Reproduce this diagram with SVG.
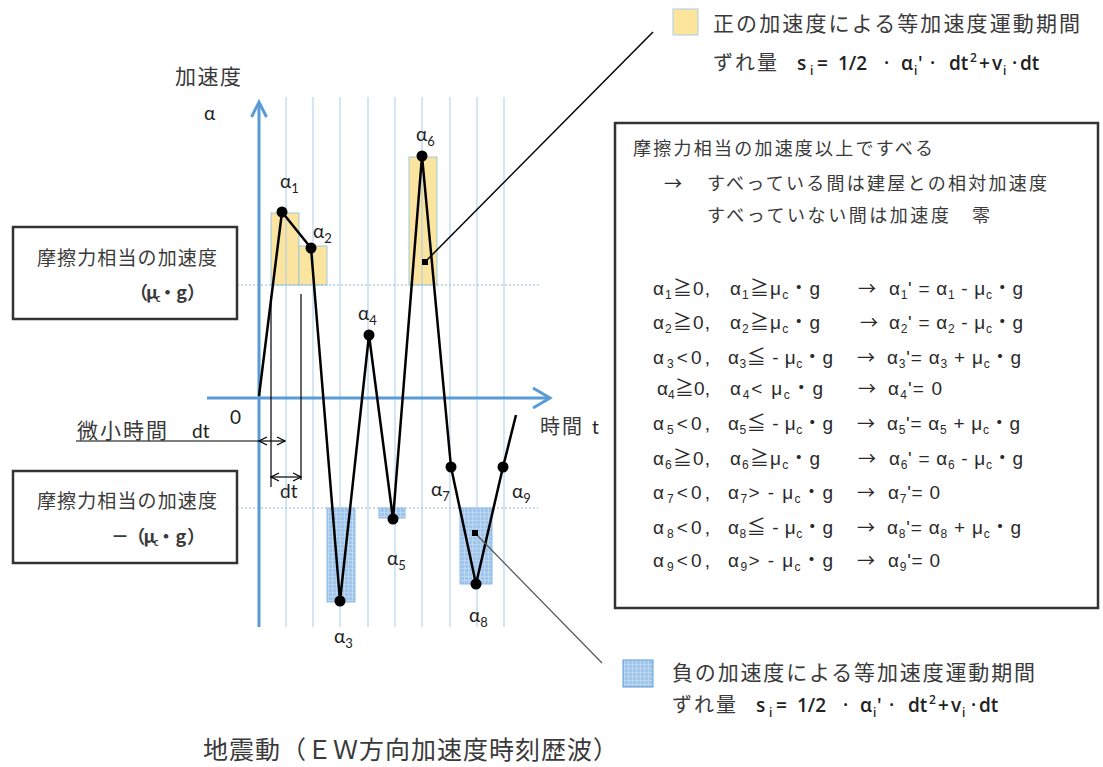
<svg xmlns="http://www.w3.org/2000/svg" width="1103" height="767" viewBox="0 0 1103 767">
<style>
.cj{font-family:"Noto Sans CJK JP","Liberation Sans",sans-serif;fill:#3a3a3a}
.eq{font-family:"Liberation Sans","Noto Sans CJK JP",sans-serif;font-size:19px;fill:#2a2a2a}
.s{font-size:12px}
.ar{font-family:"Noto Sans CJK JP",sans-serif;font-size:18px;fill:#2a2a2a}
.al{font-family:Lato,"Liberation Sans","Noto Sans CJK JP",sans-serif;font-size:19px;fill:#222}
.as{font-size:13px}
.fm{font-family:"Open Sans","Liberation Sans",sans-serif;font-size:19px;font-weight:600;fill:#222}
.fs{font-size:12px}
.box{fill:#fff;stroke:#333;stroke-width:2.5}
.grid{stroke:#a9cbec;stroke-width:1}
.dot{stroke:#8fb8e0;stroke-width:1;stroke-dasharray:2 2}
.ax{stroke:#5b9bd5;stroke-width:3;fill:none}
.yr{fill:#fbe3a0;stroke:#9cc9d8;stroke-width:1}
.br{fill:url(#bgrid);stroke:#8cbbe6;stroke-width:1}
.pt{fill:#000}
</style>
<defs>
<pattern id="bgrid" width="4" height="4" patternUnits="userSpaceOnUse">
<rect width="4" height="4" fill="#9fc6ea"/>
<path d="M0,0.5 H4 M0.5,0 V4" stroke="#c2daf2" stroke-width="0.8"/>
</pattern>
<marker id="chev" markerWidth="10" markerHeight="10" refX="9" refY="5" orient="auto-start-reverse" markerUnits="userSpaceOnUse">
<path d="M1,1 L9,5 L1,9" fill="none" stroke="#000" stroke-width="1.2"/>
</marker>
</defs>
<rect width="1103" height="767" fill="#fff"/>

<g id="chart">
<g id="bars">
<rect class="yr" x="271" y="213" width="28" height="72"/>
<rect class="yr" x="299" y="246" width="28" height="39"/>
<rect class="yr" x="409" y="157" width="28" height="128"/>
<rect class="br" x="327" y="508" width="28" height="94"/>
<rect class="br" x="379" y="508" width="26" height="10"/>
<rect class="br" x="460" y="508" width="32" height="76"/>
</g>
<g id="gridlines">
<line class="grid" x1="286" y1="97" x2="286" y2="627"/>
<line class="grid" x1="313" y1="97" x2="313" y2="627"/>
<line class="grid" x1="340" y1="97" x2="340" y2="627"/>
<line class="grid" x1="368" y1="97" x2="368" y2="627"/>
<line class="grid" x1="395" y1="97" x2="395" y2="627"/>
<line class="grid" x1="422" y1="97" x2="422" y2="627"/>
<line class="grid" x1="450" y1="97" x2="450" y2="627"/>
<line class="grid" x1="477" y1="97" x2="477" y2="627"/>
<line class="grid" x1="504" y1="97" x2="504" y2="627"/>
<line class="dot" x1="237" y1="285" x2="540" y2="285"/>
<line class="dot" x1="237" y1="508" x2="538" y2="508"/>
</g>
<g id="axes">
<line class="ax" x1="259" y1="103" x2="259" y2="627"/>
<polyline class="ax" points="251.5,117 259,102 266.5,117"/>
<line class="ax" x1="207" y1="398" x2="548" y2="398"/>
<polyline class="ax" points="533,388 550,398 533,408"/>
</g>
<g id="waveform">
<polyline points="259,396 282,212 311,248 340,601 369,335 393,519 422,156 451,467 476,584 503,467 516,415" fill="none" stroke="#000" stroke-width="2.5" stroke-linejoin="round"/>
<circle class="pt" cx="282" cy="212" r="5.5"/>
<circle class="pt" cx="311" cy="248" r="5.5"/>
<circle class="pt" cx="340" cy="601" r="5.5"/>
<circle class="pt" cx="369" cy="335" r="5.5"/>
<circle class="pt" cx="393" cy="519" r="5.5"/>
<circle class="pt" cx="422" cy="156" r="5.5"/>
<circle class="pt" cx="451" cy="467" r="5.5"/>
<circle class="pt" cx="476" cy="584" r="5.5"/>
<circle class="pt" cx="503" cy="467" r="5.5"/>
</g>
<g id="point-labels">
<text class="al" x="280" y="188">α<tspan class="as" dy="5">1</tspan></text>
<text class="al" x="313" y="238">α<tspan class="as" dy="5">2</tspan></text>
<text class="al" x="334" y="643">α<tspan class="as" dy="5">3</tspan></text>
<text class="al" x="358" y="320">α<tspan class="as" dy="5">4</tspan></text>
<text class="al" x="387" y="565">α<tspan class="as" dy="5">5</tspan></text>
<text class="al" x="416" y="141">α<tspan class="as" dy="5">6</tspan></text>
<text class="al" x="431" y="496">α<tspan class="as" dy="5">7</tspan></text>
<text class="al" x="469" y="622">α<tspan class="as" dy="5">8</tspan></text>
<text class="al" x="512" y="498">α<tspan class="as" dy="5">9</tspan></text>
</g>
<g id="axis-labels">
<text class="cj" x="175" y="84" font-size="21" textLength="66">加速度</text>
<text class="al" x="204" y="120">α</text>
<text class="al" x="230" y="424">0</text>
<text class="cj" x="540" y="434" font-size="20" textLength="42">時間</text>
<text class="al" x="592" y="434">t</text>
<text class="cj" x="77" y="438" font-size="21" textLength="90">微小時間</text>
<text class="al" x="192" y="438" font-size="20">dt</text>
<text class="al" x="280" y="498" font-size="20">dt</text>
</g>
</g>

<g id="connectors">
<line x1="76" y1="441" x2="259" y2="441" stroke="#000" stroke-width="1.2"/>
<line x1="259" y1="441" x2="285" y2="441" stroke="#000" stroke-width="1.2" marker-start="url(#chev)" marker-end="url(#chev)"/>
<line x1="271" y1="296" x2="271" y2="487" stroke="#000" stroke-width="1.2"/>
<line x1="301" y1="294" x2="301" y2="480" stroke="#000" stroke-width="1.2"/>
<line x1="271" y1="477" x2="301" y2="477" stroke="#000" stroke-width="1.2" marker-start="url(#chev)" marker-end="url(#chev)"/>
<line x1="425" y1="262" x2="653" y2="32" stroke="#000" stroke-width="1.5"/>
<rect x="422" y="259" width="6" height="6" fill="#000"/>
<line x1="475" y1="533" x2="602" y2="663" stroke="#555" stroke-width="1.2"/>
<rect x="472" y="530" width="6" height="6" fill="#000"/>
</g>

<g id="box-upper">
<rect class="box" x="13" y="227" width="224" height="92"/>
<text class="cj" x="37" y="265" font-size="19" textLength="180">摩擦力相当の加速度</text>
<text class="cj" x="130" y="299" font-size="18" font-weight="bold" textLength="75">（μ<tspan font-size="9" dy="3">c</tspan><tspan dy="-3">・ g ）</tspan></text>
</g>
<g id="box-lower">
<rect class="box" x="13" y="471" width="224" height="92"/>
<text class="cj" x="37" y="508" font-size="19" textLength="180">摩擦力相当の加速度</text>
<text class="cj" x="111" y="543" font-size="18" font-weight="bold" textLength="94">－（μ<tspan font-size="9" dy="3">c</tspan><tspan dy="-3">・ g ）</tspan></text>
</g>

<g id="legend-positive">
<rect x="673" y="9" width="25" height="26" fill="#fde59c" stroke="#a9cbec" stroke-width="1"/>
<text class="cj" x="713" y="31" font-size="21" textLength="367">正の加速度による等加速度運動期間</text>
<text class="cj" x="713" y="70" font-size="20" textLength="64">ずれ量</text>
<text class="fm" y="70"><tspan x="797">s</tspan><tspan x="810" dy="5" class="fs">i</tspan><tspan x="817" dy="-5">=</tspan><tspan x="838">1/2</tspan><tspan x="884">·</tspan><tspan x="901">α</tspan><tspan x="914" dy="5" class="fs">i</tspan><tspan x="918" dy="-5">'</tspan><tspan x="930">·</tspan><tspan x="949">dt</tspan><tspan x="970" dy="-8" class="fs">2</tspan><tspan x="979" dy="8">+</tspan><tspan x="992">v</tspan><tspan x="1003" dy="5" class="fs">i</tspan><tspan x="1012" dy="-5">·</tspan><tspan x="1020">dt</tspan></text>
</g>

<g id="legend-negative">
<rect x="623" y="660" width="30" height="27" fill="url(#bgrid)" stroke="#5b9bd5" stroke-width="1"/>
<text class="cj" x="672" y="680" font-size="21" textLength="363">負の加速度による等加速度運動期間</text>
<text class="cj" x="672" y="712" font-size="20" textLength="64">ずれ量</text>
<text class="fm" y="712"><tspan x="756">s</tspan><tspan x="769" dy="5" class="fs">i</tspan><tspan x="776" dy="-5">=</tspan><tspan x="797">1/2</tspan><tspan x="843">·</tspan><tspan x="860">α</tspan><tspan x="873" dy="5" class="fs">i</tspan><tspan x="877" dy="-5">'</tspan><tspan x="889">·</tspan><tspan x="908">dt</tspan><tspan x="929" dy="-8" class="fs">2</tspan><tspan x="938" dy="8">+</tspan><tspan x="951">v</tspan><tspan x="962" dy="5" class="fs">i</tspan><tspan x="971" dy="-5">·</tspan><tspan x="979">dt</tspan></text>
</g>

<g id="rules-box">
<rect class="box" x="615" y="123" width="483" height="485"/>
<text class="cj" x="633" y="155" font-size="18" textLength="300">摩擦力相当の加速度以上ですべる</text>
<text class="ar" x="664" y="190">→</text>
<text class="cj" x="707" y="190" font-size="18" textLength="340">すべっている間は建屋との相対加速度</text>
<text class="cj" x="707" y="222" font-size="18" textLength="283">すべっていない間は加速度　零</text>

<text class="eq" x="653" y="295" textLength="57">α<tspan class="s" dy="4">1</tspan><tspan dy="-4">≧0,</tspan></text>
<text class="eq" x="730" y="295" textLength="90">α<tspan class="s" dy="4">1</tspan><tspan dy="-4">≧μ</tspan><tspan class="s" dy="4">c</tspan><tspan dy="-4">・g</tspan></text>
<text class="ar" x="858" y="295">→</text>
<text class="eq" x="889" y="295" textLength="134">α<tspan class="s" dy="4">1</tspan><tspan dy="-4">' = α</tspan><tspan class="s" dy="4">1</tspan><tspan dy="-4"> - μ</tspan><tspan class="s" dy="4">c</tspan><tspan dy="-4">・g</tspan></text>

<text class="eq" x="653" y="329" textLength="57">α<tspan class="s" dy="4">2</tspan><tspan dy="-4">≧0,</tspan></text>
<text class="eq" x="730" y="329" textLength="90">α<tspan class="s" dy="4">2</tspan><tspan dy="-4">≧μ</tspan><tspan class="s" dy="4">c</tspan><tspan dy="-4">・g</tspan></text>
<text class="ar" x="860" y="329">→</text>
<text class="eq" x="889" y="329" textLength="134">α<tspan class="s" dy="4">2</tspan><tspan dy="-4">' = α</tspan><tspan class="s" dy="4">2</tspan><tspan dy="-4"> - μ</tspan><tspan class="s" dy="4">c</tspan><tspan dy="-4">・g</tspan></text>

<text class="eq" x="653" y="364" textLength="57">α<tspan class="s" dy="4">3</tspan><tspan dy="-4">&lt;0,</tspan></text>
<text class="eq" x="728" y="364" textLength="105">α<tspan class="s" dy="4">3</tspan><tspan dy="-4">≦ - μ</tspan><tspan class="s" dy="4">c</tspan><tspan dy="-4">・g</tspan></text>
<text class="ar" x="857" y="364">→</text>
<text class="eq" x="887" y="364" textLength="134">α<tspan class="s" dy="4">3</tspan><tspan dy="-4">'= α</tspan><tspan class="s" dy="4">3</tspan><tspan dy="-4"> + μ</tspan><tspan class="s" dy="4">c</tspan><tspan dy="-4">・g</tspan></text>

<text class="eq" x="657" y="395" textLength="53">α<tspan class="s" dy="4">4</tspan><tspan dy="-4">≧0,</tspan></text>
<text class="eq" x="730" y="395" textLength="93">α<tspan class="s" dy="4">4</tspan><tspan dy="-4">&lt; μ</tspan><tspan class="s" dy="4">c</tspan><tspan dy="-4">・g</tspan></text>
<text class="ar" x="858" y="395">→</text>
<text class="eq" x="888" y="395" textLength="54">α<tspan class="s" dy="4">4</tspan><tspan dy="-4">'= 0</tspan></text>

<text class="eq" x="653" y="430" textLength="57">α<tspan class="s" dy="4">5</tspan><tspan dy="-4">&lt;0,</tspan></text>
<text class="eq" x="728" y="430" textLength="105">α<tspan class="s" dy="4">5</tspan><tspan dy="-4">≦ - μ</tspan><tspan class="s" dy="4">c</tspan><tspan dy="-4">・g</tspan></text>
<text class="ar" x="857" y="430">→</text>
<text class="eq" x="887" y="430" textLength="133">α<tspan class="s" dy="4">5</tspan><tspan dy="-4">'= α</tspan><tspan class="s" dy="4">5</tspan><tspan dy="-4"> + μ</tspan><tspan class="s" dy="4">c</tspan><tspan dy="-4">・g</tspan></text>

<text class="eq" x="653" y="465" textLength="57">α<tspan class="s" dy="4">6</tspan><tspan dy="-4">≧0,</tspan></text>
<text class="eq" x="730" y="465" textLength="90">α<tspan class="s" dy="4">6</tspan><tspan dy="-4">≧μ</tspan><tspan class="s" dy="4">c</tspan><tspan dy="-4">・g</tspan></text>
<text class="ar" x="858" y="465">→</text>
<text class="eq" x="889" y="465" textLength="134">α<tspan class="s" dy="4">6</tspan><tspan dy="-4">' = α</tspan><tspan class="s" dy="4">6</tspan><tspan dy="-4"> - μ</tspan><tspan class="s" dy="4">c</tspan><tspan dy="-4">・g</tspan></text>

<text class="eq" x="653" y="499" textLength="57">α<tspan class="s" dy="4">7</tspan><tspan dy="-4">&lt;0,</tspan></text>
<text class="eq" x="728" y="499" textLength="105">α<tspan class="s" dy="4">7</tspan><tspan dy="-4">&gt; - μ</tspan><tspan class="s" dy="4">c</tspan><tspan dy="-4">・g</tspan></text>
<text class="ar" x="857" y="499">→</text>
<text class="eq" x="888" y="499" textLength="52">α<tspan class="s" dy="4">7</tspan><tspan dy="-4">'= 0</tspan></text>

<text class="eq" x="653" y="534" textLength="57">α<tspan class="s" dy="4">8</tspan><tspan dy="-4">&lt;0,</tspan></text>
<text class="eq" x="728" y="534" textLength="105">α<tspan class="s" dy="4">8</tspan><tspan dy="-4">≦ - μ</tspan><tspan class="s" dy="4">c</tspan><tspan dy="-4">・g</tspan></text>
<text class="ar" x="857" y="534">→</text>
<text class="eq" x="887" y="534" textLength="134">α<tspan class="s" dy="4">8</tspan><tspan dy="-4">'= α</tspan><tspan class="s" dy="4">8</tspan><tspan dy="-4"> + μ</tspan><tspan class="s" dy="4">c</tspan><tspan dy="-4">・g</tspan></text>

<text class="eq" x="653" y="567" textLength="57">α<tspan class="s" dy="4">9</tspan><tspan dy="-4">&lt;0,</tspan></text>
<text class="eq" x="728" y="567" textLength="105">α<tspan class="s" dy="4">9</tspan><tspan dy="-4">&gt; - μ</tspan><tspan class="s" dy="4">c</tspan><tspan dy="-4">・g</tspan></text>
<text class="ar" x="857" y="567">→</text>
<text class="eq" x="888" y="567" textLength="52">α<tspan class="s" dy="4">9</tspan><tspan dy="-4">'= 0</tspan></text>
</g>

<g id="title">
<text class="cj" x="203" y="759" font-size="25" textLength="415">地震動（ＥＷ方向加速度時刻歴波）</text>
</g>
</svg>
